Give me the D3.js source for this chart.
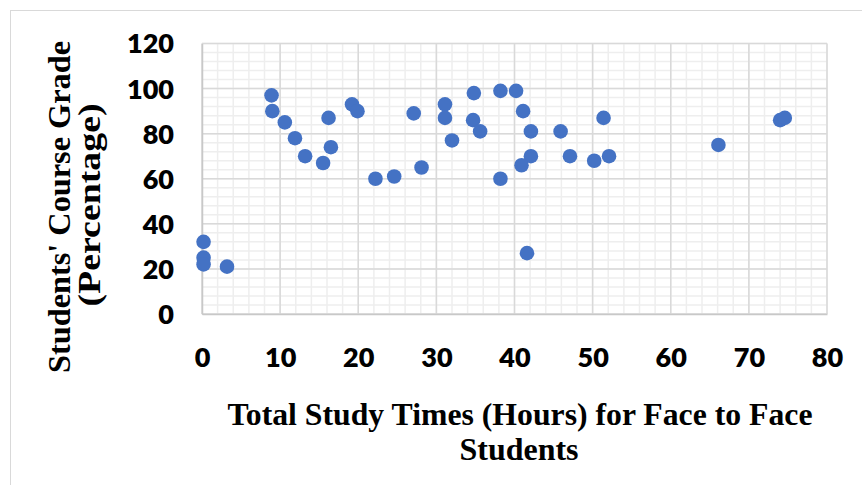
<!DOCTYPE html>
<html>
<head>
<meta charset="utf-8">
<script src="https://cdn.jsdelivr.net/npm/d3@7"></script>
<style>
  html, body { margin: 0; padding: 0; background: #ffffff; }
  svg { display: block; }
</style>
</head>
<body>
<svg id="chart" width="862" height="485"></svg>
<script>
// Study hours (face to face) and the matching course grade for each student
const studyHours = [0.2, 0.2, 0.2, 3.2, 8.9, 9.0, 10.6, 11.9, 13.2, 15.5,
                    16.2, 16.5, 19.2, 19.9, 22.2, 24.6, 27.1, 28.1, 31.1, 31.1,
                    32.0, 34.8, 34.7, 35.6, 38.2, 38.2, 40.2, 41.1, 42.1, 42.1,
                    40.9, 41.6, 45.9, 47.1, 50.2, 51.4, 52.1, 66.1, 74.0, 74.6];
const courseGrades = [32, 25, 22, 21, 97, 90, 85, 78, 70, 67,
                      87, 74, 93, 90, 60, 61, 89, 65, 93, 87,
                      77, 98, 86, 81, 99, 60, 99, 90, 81, 70,
                      66, 27, 81, 70, 68, 87, 70, 75, 86, 87];

const xTicks = [0, 10, 20, 30, 40, 50, 60, 70, 80];
const yTicks = [0, 20, 40, 60, 80, 100, 120];
const xMinorTicks = d3.range(0, 80.001, 2);
const yMinorTicks = d3.range(0, 120.001, 4);

const xTitleLines = ["Total Study Times (Hours) for Face to Face", "Students"];
const yTitleLines = ["Students' Course Grade", "(Percentage)"];

const svg = d3.select("#chart");

// outer chart frame
svg.append("rect")
  .attr("x", 10.5).attr("y", 10.5)
  .attr("width", 900).attr("height", 500)
  .attr("fill", "#ffffff")
  .attr("stroke", "#d9d9d9")
  .attr("stroke-width", 1);

const plot = { left: 202, right: 827, top: 43.5, bottom: 314 };

const x = d3.scaleLinear().domain([0, 80]).range([plot.left, plot.right]);
const y = d3.scaleLinear().domain([0, 120]).range([plot.bottom, plot.top]);

// minor gridlines
const minor = svg.append("g").attr("class", "minor-grid");
minor.selectAll("line.vx").data(xMinorTicks).join("line")
  .attr("x1", d => x(d)).attr("x2", d => x(d))
  .attr("y1", plot.top).attr("y2", plot.bottom)
  .attr("stroke", "#eeeeee").attr("stroke-width", 1.5);
minor.selectAll("line.hy").data(yMinorTicks).join("line")
  .attr("x1", plot.left).attr("x2", plot.right)
  .attr("y1", d => y(d)).attr("y2", d => y(d))
  .attr("stroke", "#eeeeee").attr("stroke-width", 1.5);

// major gridlines
const major = svg.append("g").attr("class", "major-grid");
major.selectAll("line.vx").data(xTicks).join("line")
  .attr("x1", d => x(d)).attr("x2", d => x(d))
  .attr("y1", plot.top).attr("y2", plot.bottom)
  .attr("stroke", "#d9d9d9").attr("stroke-width", 1.5);
major.selectAll("line.hy").data(yTicks).join("line")
  .attr("x1", plot.left).attr("x2", plot.right)
  .attr("y1", d => y(d)).attr("y2", d => y(d))
  .attr("stroke", "#d9d9d9").attr("stroke-width", 1.5);

// axes (lines + tick labels)
const tickFont = "Lato, 'Open Sans', 'Liberation Sans', sans-serif";

const xAxis = svg.append("g")
  .attr("transform", `translate(0,${plot.bottom})`)
  .call(d3.axisBottom(x).tickValues(xTicks).tickSize(0).tickPadding(0));
xAxis.select(".domain").attr("stroke", "#c8c8c8").attr("stroke-width", 1.5);
xAxis.selectAll(".tick text")
  .attr("dy", null)
  .attr("y", 53)
  .attr("font-family", tickFont)
  .attr("font-weight", 800)
  .attr("font-size", 27)
  .attr("fill", "#000000");

const yAxis = svg.append("g")
  .attr("transform", `translate(${plot.left},0)`)
  .call(d3.axisLeft(y).tickValues(yTicks).tickSize(0).tickPadding(28));
yAxis.select(".domain").attr("stroke", "#c8c8c8").attr("stroke-width", 1.5);
yAxis.selectAll(".tick text")
  .attr("dy", "0.35em")
  .attr("font-family", tickFont)
  .attr("font-weight", 800)
  .attr("font-size", 27)
  .attr("fill", "#000000");

// scatter points
svg.append("g").selectAll("circle")
  .data(studyHours.map((h, i) => ({ h, g: courseGrades[i] })))
  .join("circle")
  .attr("cx", d => x(d.h))
  .attr("cy", d => y(d.g))
  .attr("r", 7.3)
  .attr("fill", "#4472c4");

// axis titles
const titleFont = "'Liberation Serif', 'Times New Roman', serif";

const xTitle = svg.append("g");
const xTitleLayout = [
  { cx: 520, base: 425, len: 585 },
  { cx: 519, base: 460, len: 119 }
];
xTitleLines.forEach((t, i) => {
  const L = xTitleLayout[i];
  xTitle.append("text")
    .attr("transform", `translate(${L.cx},${L.base}) scale(1,1.12)`)
    .attr("text-anchor", "middle")
    .attr("font-family", titleFont)
    .attr("font-weight", 700)
    .attr("font-size", 29)
    .attr("textLength", L.len)
    .attr("lengthAdjust", "spacingAndGlyphs")
    .attr("fill", "#000000")
    .text(t);
});

const yTitle = svg.append("g");
const yTitleLayout = [
  { base: 70, cy: 207, len: 332 },
  { base: 100, cy: 205, len: 203 }
];
yTitleLines.forEach((t, i) => {
  const L = yTitleLayout[i];
  yTitle.append("text")
    .attr("transform", `translate(${L.base},${L.cy}) rotate(-90)`)
    .attr("text-anchor", "middle")
    .attr("font-family", titleFont)
    .attr("font-weight", 700)
    .attr("font-size", 32)
    .attr("textLength", L.len)
    .attr("lengthAdjust", "spacingAndGlyphs")
    .attr("fill", "#000000")
    .text(t);
});
</script>
</body>
</html>
